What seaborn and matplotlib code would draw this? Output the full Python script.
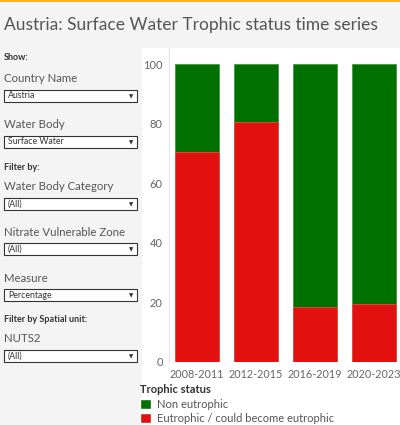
"""
Austria surface water trophic status, stacked percentage bars.
"""

import matplotlib.pyplot as plt
from matplotlib.patches import Rectangle, Patch
import seaborn as sns
import pandas as pd

# Data
periods = ['2008-2011', '2012-2015', '2016-2019', '2020-2023']
eutrophic = [70.4, 80.5, 18.6, 19.5]
non_eutrophic = [29.6, 19.5, 81.4, 80.5]

# Filter panel labels
filters = [
    ('Show:', None),
    ('Country Name', 'Austria'),
    ('Water Body', 'Surface Water'),
    ('Filter by:', None),
    ('Water Body Category', '(All)'),
    ('Nitrate Vulnerable Zone', '(All)'),
    ('Measure', 'Percentage'),
    ('Filter by Spatial unit:', None),
    ('NUTS2', '(All)'),
]

green = '#007000'
red = '#e31010'
txt = '#555555'

df = pd.DataFrame({'period': periods, 'eutrophic': eutrophic,
                   'non': non_eutrophic})
df['total'] = df['eutrophic'] + df['non']

sns.set_style('white')
plt.rcParams['font.family'] = ['Lato', 'DejaVu Sans']

W, H = 400, 425
fig = plt.figure(figsize=(W / 100, H / 100), dpi=100, facecolor='#f4f4f4')


def fx(px):
    return px / W


def fy(py):
    return 1 - py / H


# White chart pane and top accent line (behind the axes)
fig.patches.append(Rectangle((fx(142), 0), fx(400 - 142), fy(48), transform=fig.transFigure,
                             facecolor='white', edgecolor='none', zorder=-5))
fig.patches.append(Rectangle((0, fy(2)), 1, 2 / H, transform=fig.transFigure,
                             facecolor='#f5b21c', edgecolor='none', zorder=-5))

fig.text(fx(4), fy(25), 'Austria: Surface Water Trophic status time series',
         fontsize=12.5, color=txt, va='center', ha='left')

# Left filter panel
ypos = [58, 79, 125, 167, 187, 232, 278, 319, 339]
for (label, value), y in zip(filters, ypos):
    if value is None:
        fig.text(fx(4), fy(y), label, fontsize=6.5, fontweight='bold', color='#333333',
                 va='center')
        continue
    fig.text(fx(4), fy(y), label, fontsize=8.2, color=txt, va='center')
    by = y + 17
    fig.patches.append(Rectangle((fx(4), fy(by + 6)), fx(133), 12 / H,
                                 transform=fig.transFigure, facecolor='white',
                                 edgecolor='#333333', linewidth=0.8, zorder=1))
    fig.text(fx(8), fy(by), value, fontsize=6.3, color='#333333', va='center')
    fig.text(fx(131), fy(by + 0.5), '▼', fontsize=4, color='#333333', va='center',
             ha='center', family='DejaVu Sans')

# Chart
ax = fig.add_axes([fx(169), fy(362), fx(400 - 169), (362 - 48) / H])
ax.set_facecolor('white')
sns.barplot(data=df, x='period', y='total', color=green, width=0.746,
            saturation=1, ax=ax, edgecolor='#3c8f3c', linewidth=0.5)
sns.barplot(data=df, x='period', y='eutrophic', color=red, width=0.746,
            saturation=1, ax=ax, edgecolor='#f05050', linewidth=0.5)

ax.set_xlim(-0.475, 3.44)
ax.set_ylim(0, 105.4)
ax.set_yticks([0, 20, 40, 60, 80, 100])
ax.set_xlabel('')
ax.set_ylabel('')
ax.tick_params(axis='y', length=0, pad=4.5, labelsize=8, labelcolor='#666666')
ax.tick_params(axis='x', length=0, pad=5, labelsize=7.8, labelcolor='#666666')
for side in ['top', 'right', 'bottom']:
    ax.spines[side].set_visible(False)
ax.spines['left'].set_color('#e6e6e6')
ax.spines['left'].set_linewidth(0.8)

handles = [Patch(facecolor=green, label='Non eutrophic'),
           Patch(facecolor=red, label='Eutrophic / could become eutrophic')]
leg = fig.legend(handles=handles, title='Trophic status', loc='upper left',
                 bbox_to_anchor=(fx(138), fy(382)), frameon=False, fontsize=8,
                 title_fontsize=8, handlelength=1.0, handleheight=0.95,
                 handletextpad=0.5, labelspacing=0.3, borderaxespad=0,
                 borderpad=0.2)
leg._legend_box.align = 'left'
leg.get_title().set_fontweight('bold')
leg.get_title().set_color('#333333')
for t in leg.get_texts():
    t.set_color(txt)

fig.savefig('out.png', dpi=100, facecolor=fig.get_facecolor())
